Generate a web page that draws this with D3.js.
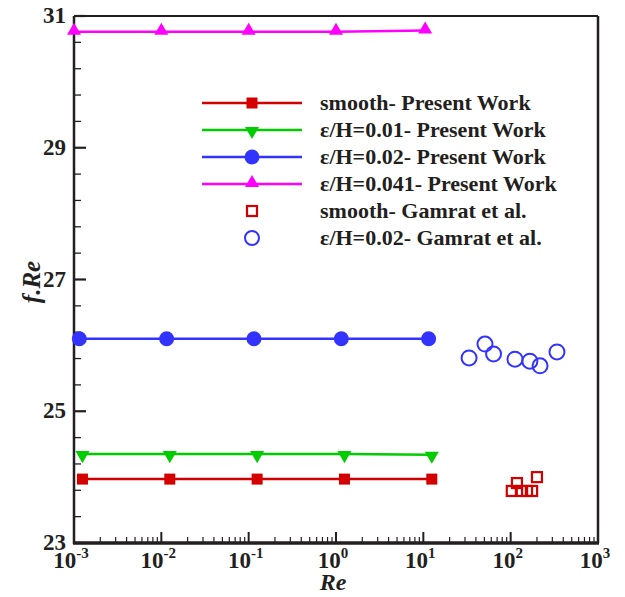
<!DOCTYPE html>
<html>
<head>
<meta charset="utf-8">
<script src="https://cdn.jsdelivr.net/npm/d3@7"></script>
<style>
  body { margin: 0; background: #fff; }
  text { font-family: "Liberation Serif", "Times New Roman", serif; font-weight: bold; fill: #231f20; }
</style>
</head>
<body>
<div id="chart"></div>
<script>
// chart values
var reSmooth = [0.00125, 0.0125, 0.125, 1.25, 12.5],
    fSmooth = [23.97, 23.97, 23.97, 23.97, 23.97];
var reE01 = [0.00125, 0.0125, 0.125, 1.25, 12.5],
    fE01 = [24.35, 24.35, 24.35, 24.35, 24.34];
var reE02 = [0.00115, 0.0115, 0.115, 1.15, 11.5],
    fE02 = [26.10, 26.10, 26.10, 26.10, 26.10];
var reE041 = [0.001, 0.01, 0.1, 1, 10.5],
    fE041 = [30.76, 30.76, 30.76, 30.76, 30.78];
var reGamSmooth = [103, 118, 131, 154, 176, 200],
    fGamSmooth = [23.79, 23.91, 23.79, 23.79, 23.79, 24.00];
var reGamE02 = [33.4, 50.8, 63.7, 112, 166, 217, 339],
    fGamE02 = [25.81, 26.02, 25.87, 25.79, 25.76, 25.69, 25.90];

var yTicks = [23, 25, 27, 29, 31];
var xExps = [-3, -2, -1, 0, 1, 2, 3];
var legendLabels = ["smooth- Present Work", "\u03b5/H=0.01- Present Work", "\u03b5/H=0.02- Present Work",
                    "\u03b5/H=0.041- Present Work", "smooth- Gamrat et al.", "\u03b5/H=0.02- Gamrat et al."];

var width = 625, height = 597;
var plotL = 74, plotR = 598, plotT = 16, plotB = 543;

var svg = d3.select("#chart").append("svg")
    .attr("width", width)
    .attr("height", height);

var x = d3.scaleLog().domain([1e-3, 1e3]).range([plotL, plotR]);
var y = d3.scaleLinear().domain([23, 31]).range([plotB, plotT]);

var ink = "#231f20";

// minor ticks x (2..9 in each decade)
var xMinor = [];
xExps.slice(0, -1).forEach(function(e) {
  for (var k = 2; k <= 9; k++) xMinor.push(k * Math.pow(10, e));
});
svg.selectAll(".xminor").data(xMinor).enter().append("line")
    .attr("x1", function(d) { return x(d); }).attr("x2", function(d) { return x(d); })
    .attr("y1", plotB).attr("y2", plotB - 6)
    .attr("stroke", ink).attr("stroke-width", 1.2);
svg.selectAll(".xmajor").data(xExps).enter().append("line")
    .attr("x1", function(d) { return x(Math.pow(10, d)); }).attr("x2", function(d) { return x(Math.pow(10, d)); })
    .attr("y1", plotB).attr("y2", plotB - 11)
    .attr("stroke", ink).attr("stroke-width", 2);

// y ticks, minor every 0.4
var yMinor = d3.range(1, 20).map(function(i) { return 23 + i * 0.4; })
    .filter(function(v) { return Math.abs(v - Math.round(v)) > 0.05; });
svg.selectAll(".yminor").data(yMinor).enter().append("line")
    .attr("x1", plotL).attr("x2", plotL + 7)
    .attr("y1", function(d) { return y(d); }).attr("y2", function(d) { return y(d); })
    .attr("stroke", ink).attr("stroke-width", 1.3);
svg.selectAll(".ymajor").data(yTicks).enter().append("line")
    .attr("x1", plotL).attr("x2", plotL + 12)
    .attr("y1", function(d) { return y(d); }).attr("y2", function(d) { return y(d); })
    .attr("stroke", ink).attr("stroke-width", 2.2);

// frame
svg.append("line").attr("x1", plotL).attr("x2", plotR).attr("y1", plotT).attr("y2", plotT)
    .attr("stroke", ink).attr("stroke-width", 1.8);
svg.append("line").attr("x1", plotR).attr("x2", plotR).attr("y1", plotT).attr("y2", plotB)
    .attr("stroke", ink).attr("stroke-width", 2.5);
svg.append("line").attr("x1", plotL).attr("x2", plotL).attr("y1", plotT).attr("y2", plotB + 1)
    .attr("stroke", ink).attr("stroke-width", 2.5);
svg.append("line").attr("x1", plotL - 1).attr("x2", plotR + 1).attr("y1", plotB).attr("y2", plotB)
    .attr("stroke", ink).attr("stroke-width", 3.5);

// tick labels
svg.selectAll(".ylab").data(yTicks).enter().append("text")
    .attr("x", plotL - 8).attr("y", function(d) { return y(d) + 7; })
    .attr("text-anchor", "end").style("font-size", "23px")
    .text(function(d) { return d; });

var xl = svg.selectAll(".xlab").data(xExps).enter().append("text")
    .attr("x", function(d) { return x(Math.pow(10, d)) - 3; })
    .attr("y", 568).attr("text-anchor", "middle").style("font-size", "23px");
xl.append("tspan").text("10");
xl.append("tspan").attr("dy", -10).style("font-size", "15px").text(function(d) { return d; });

// axis titles
svg.append("text").attr("x", 333).attr("y", 590).attr("text-anchor", "middle")
    .style("font-size", "24px").style("font-style", "italic").text("Re");
svg.append("text").attr("transform", "translate(40,282) rotate(-90)").attr("text-anchor", "middle")
    .style("font-size", "25px").style("font-style", "italic").text("f.Re");

// series
var line = d3.line().x(function(d) { return x(d[0]); }).y(function(d) { return y(d[1]); });
var tri = d3.symbol().type(d3.symbolTriangle).size(85);

var series = [
  { re: reSmooth, f: fSmooth, color: "#d40000", mark: "square" },
  { re: reE01, f: fE01, color: "#00cc00", mark: "tridown" },
  { re: reE02, f: fE02, color: "#3333ff", mark: "circle" },
  { re: reE041, f: fE041, color: "#ff00ff", mark: "triup" }
];

function drawMark(g, mark, color, cx, cy) {
  if (mark == "square") {
    g.append("rect").attr("x", cx - 5.5).attr("y", cy - 5.5).attr("width", 11).attr("height", 11).attr("fill", color);
  } else if (mark == "circle") {
    g.append("circle").attr("cx", cx).attr("cy", cy).attr("r", 7.5).attr("fill", color);
  } else if (mark == "triup") {
    g.append("path").attr("d", tri()).attr("transform", "translate(" + cx + "," + (cy - 1) + ")").attr("fill", color);
  } else if (mark == "tridown") {
    g.append("path").attr("d", tri()).attr("transform", "translate(" + cx + "," + (cy + 1) + ") rotate(180)").attr("fill", color);
  }
}

series.forEach(function(s) {
  var pts = d3.zip(s.re, s.f);
  svg.append("path").datum(pts).attr("d", line)
      .attr("fill", "none").attr("stroke", s.color).attr("stroke-width", 2.5);
  pts.forEach(function(p) { drawMark(svg, s.mark, s.color, x(p[0]), y(p[1])); });
});

// Gamrat et al. open markers
svg.selectAll(".gsq").data(d3.zip(reGamSmooth, fGamSmooth)).enter().append("rect")
    .attr("x", function(d) { return x(d[0]) - 5; }).attr("y", function(d) { return y(d[1]) - 5; })
    .attr("width", 10).attr("height", 10)
    .attr("fill", "none").attr("stroke", "#d40000").attr("stroke-width", 2.2);
svg.selectAll(".gci").data(d3.zip(reGamE02, fGamE02)).enter().append("circle")
    .attr("cx", function(d) { return x(d[0]); }).attr("cy", function(d) { return y(d[1]); })
    .attr("r", 7.5).attr("fill", "none").attr("stroke", "#3333ff").attr("stroke-width", 2);

// legend
var legY0 = 103, legDy = 27;
var legMarks = ["square", "tridown", "circle", "triup", "osquare", "ocircle"];
var legColors = ["#d40000", "#00cc00", "#3333ff", "#ff00ff", "#d40000", "#3333ff"];
legendLabels.forEach(function(lab, i) {
  var ly = legY0 + i * legDy;
  if (i < 4) {
    svg.append("line").attr("x1", 202).attr("x2", 302).attr("y1", ly).attr("y2", ly)
        .attr("stroke", legColors[i]).attr("stroke-width", 2.5);
    drawMark(svg, legMarks[i], legColors[i], 252, ly);
  } else if (i == 4) {
    svg.append("rect").attr("x", 247).attr("y", ly - 5).attr("width", 10).attr("height", 10)
        .attr("fill", "none").attr("stroke", legColors[i]).attr("stroke-width", 2.2);
  } else {
    svg.append("circle").attr("cx", 252).attr("cy", ly).attr("r", 7)
        .attr("fill", "none").attr("stroke", legColors[i]).attr("stroke-width", 2);
  }
  svg.append("text").attr("x", 320).attr("y", ly + 7).style("font-size", "22px").text(lab);
});
</script>
</body>
</html>
